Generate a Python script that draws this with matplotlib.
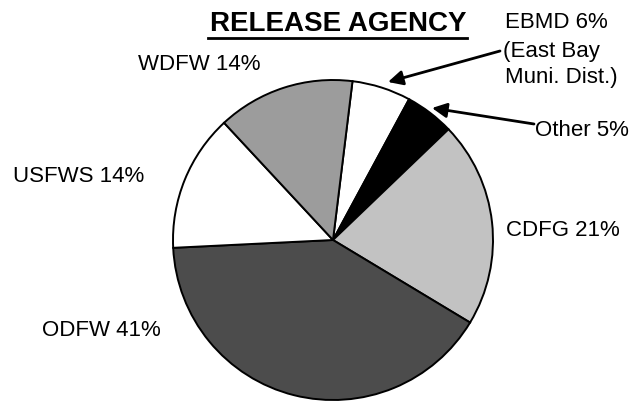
import matplotlib.pyplot as plt

# release agency shares (%), clockwise from top
agencies = ["EBMD", "Other", "CDFG", "ODFW", "USFWS", "WDFW"]
shares = [6, 5, 21, 41, 14, 14]
colors = ["white", "black", "#c2c2c2", "#4c4c4c", "white", "#9c9c9c"]

plt.rcParams["font.family"] = ["Liberation Sans", "DejaVu Sans"]

W, H = 634, 401
fig = plt.figure(figsize=(W / 100, H / 100), dpi=100)
ax = fig.add_axes([0, 0, 1, 1])
ax.set_xlim(0, W)
ax.set_ylim(0, H)
ax.axis("off")


def py(y):
    # pixel row -> data y
    return H - y


ax.pie(
    shares,
    colors=colors,
    startangle=83,
    counterclock=False,
    center=(333, py(240)),
    radius=160,
    frame=True,
    wedgeprops={"edgecolor": "black", "linewidth": 1.4},
)
ax.set_xlim(0, W)
ax.set_ylim(0, H)
ax.axis("off")

# title
ax.text(338, py(24), "RELEASE AGENCY", fontsize=20, fontweight="bold",
        ha="center", va="center")
ax.plot([208, 467], [py(38), py(38)], color="black", lw=2)

lab = {"fontsize": 16, "va": "center"}
ax.text(138, py(65), "WDFW 14%", ha="left", **lab)
ax.text(13, py(176), "USFWS 14%", ha="left", **lab)
ax.text(42, py(331), "ODFW 41%", ha="left", **lab)
ax.text(506, py(231), "CDFG 21%", ha="left", **lab)
ax.text(505, py(22), "EBMD 6%", ha="left", **lab)
ax.text(503, py(51), "(East Bay", ha="left", **lab)
ax.text(505, py(78), "Muni. Dist.)", ha="left", **lab)
ax.text(535, py(130), "Other 5%", ha="left", **lab)

arrow = {"arrowstyle": "-|>", "lw": 2, "color": "black", "mutation_scale": 22,
         "shrinkA": 0, "shrinkB": 0}
ax.annotate("", xy=(388, py(82)), xytext=(500, py(51)), arrowprops=arrow)
ax.annotate("", xy=(432, py(108)), xytext=(534, py(124)), arrowprops=arrow)

fig.savefig("out.png", dpi=100)
